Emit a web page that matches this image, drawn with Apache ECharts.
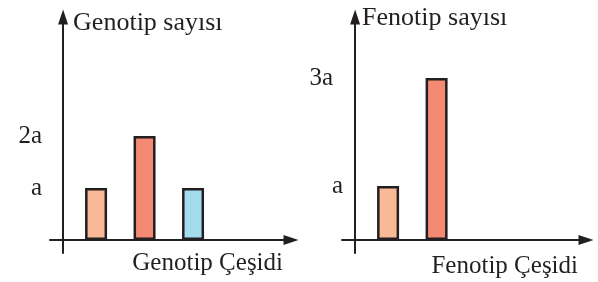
<!DOCTYPE html>
<html>
<head>
<meta charset="utf-8">
<script src="https://cdn.jsdelivr.net/npm/echarts@6/dist/echarts.min.js"></script>
<style>
  html, body { margin: 0; padding: 0; background: #fff; }
  #chart { width: 598px; height: 282px; }
</style>
</head>
<body>
<div id="chart"></div>
<script>
// ---------- DATA ----------
const genotipCategories = ['AA', 'Aa', 'aa'];
const genotipValues = [1, 2, 1];
const genotipColors = ['#F9B896', '#F48A74', '#A3DCEC'];
const genotipTicks = [1, 2];
const genotipTickLabels = ['a', '2a'];

const fenotipCategories = ['A_', 'aa'];
const fenotipValues = [1, 3];
const fenotipColors = ['#F9B896', '#F48A74'];
const fenotipTicks = [1, 3];
const fenotipTickLabels = ['a', '3a'];

// ---------- CHART ----------
const ink = '#231F20';
const serif = '"Liberation Serif", "DejaVu Serif", serif';
const barShift = 0.68; // bars sit a bit right of each whole step

let chart = echarts.init(document.getElementById('chart'));

function axisLine() {
  return {
    show: true,
    onZero: true,
    symbol: ['none', 'triangle'],
    symbolSize: [10, 15],
    lineStyle: { color: ink, width: 2 }
  };
}

function makeX(idx, name, max, padTop) {
  return {
    type: 'value',
    gridIndex: idx,
    min: -0.27,
    max: max,
    splitLine: { show: false },
    axisTick: { show: false },
    axisLabel: { show: false },
    axisLine: axisLine(),
    name: name,
    nameLocation: 'end',
    nameGap: -8,
    nameTextStyle: {
      fontFamily: serif, fontSize: 25, color: ink,
      align: 'right', verticalAlign: 'top', padding: [padTop, 0, 0, 0]
    }
  };
}

function makeY(idx, name, min, max, ticks, labels, opts) {
  return {
    type: 'value',
    gridIndex: idx,
    min: min,
    max: max,
    splitLine: { show: false },
    axisTick: { show: false },
    axisLine: axisLine(),
    axisLabel: {
      customValues: ticks,
      formatter: function (v) {
        let t = labels[ticks.indexOf(v)] || '';
        return opts.wide[t] ? '{w|' + t + '}' : t;
      },
      rich: {
        w: { fontFamily: serif, fontSize: 25, color: ink, padding: [0, opts.widePad, 0, 0] }
      },
      fontFamily: serif, fontSize: 25, color: ink, margin: opts.margin
    },
    name: name,
    nameLocation: 'end',
    nameGap: opts.nameGap,
    nameTextStyle: {
      fontFamily: serif, fontSize: 26, color: ink,
      align: 'left', verticalAlign: 'top', padding: [0, 0, 0, opts.namePad]
    }
  };
}

function makeBars(idx, cats, values, colors) {
  return {
    type: 'bar',
    xAxisIndex: idx,
    yAxisIndex: idx,
    barWidth: 22,
    data: cats.map((c, i) => ({
      name: c,
      value: [i + barShift, values[i]],
      itemStyle: { color: colors[i], borderColor: ink, borderWidth: 2.5 }
    }))
  };
}

let option = {
  animation: false,
  backgroundColor: '#fff',
  grid: [
    { left: 50, right: 307, top: 17, bottom: 29 },
    { left: 342, right: 12, top: 17, bottom: 29 }
  ],
  xAxis: [
    makeX(0, 'Genotip Çeşidi', 4.7, 11),
    makeX(1, 'Fenotip Çeşidi', 4.76, 14)
  ],
  yAxis: [
    makeY(0, 'Genotip sayısı', -0.25, 4.29, genotipTicks, genotipTickLabels,
      { margin: 8, wide: {}, widePad: 0, nameGap: 7, namePad: 10 }),
    makeY(1, 'Fenotip sayısı', -0.24, 4.13, fenotipTicks, fenotipTickLabels,
      { margin: -1, wide: { '3a': true }, widePad: 10, nameGap: 12, namePad: 7 })
  ],
  series: [
    makeBars(0, genotipCategories, genotipValues, genotipColors),
    makeBars(1, fenotipCategories, fenotipValues, fenotipColors)
  ]
};

chart.setOption(option);
</script>
</body>
</html>
